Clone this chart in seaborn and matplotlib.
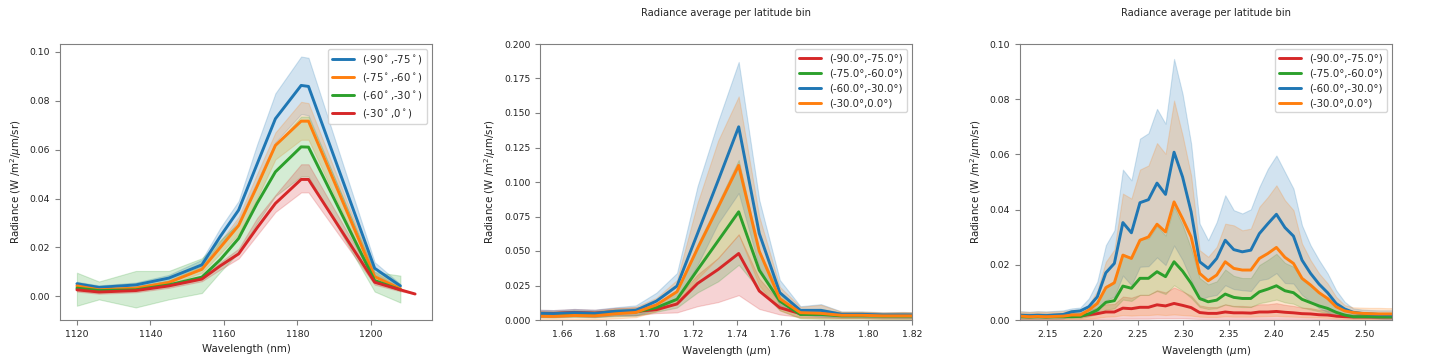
import numpy as np
import pandas as pd
import matplotlib
matplotlib.use("Agg")
import matplotlib.pyplot as plt
import seaborn as sns

# ---------------- Panel 1 data (nm) ----------------
WL1 = [1120, 1126, 1136, 1145, 1154, 1159, 1164, 1169, 1174, 1181, 1183, 1201, 1208]
WL1_RED = [1120, 1126, 1136, 1145, 1154, 1159, 1164, 1169, 1174, 1181, 1183, 1201, 1208, 1212]
LABELS1 = [r"(-90$^\circ$,-75$^\circ$)", r"(-75$^\circ$,-60$^\circ$)",
           r"(-60$^\circ$,-30$^\circ$)", r"(-30$^\circ$,0$^\circ$)"]
P1_BLUE = [0.0052, 0.0037, 0.0047, 0.0075, 0.0129, 0.0245, 0.0353, 0.0540, 0.0726, 0.0862, 0.0858, 0.0115, 0.0043]
P1_BLUE_HI = [0.0060, 0.0045, 0.0057, 0.0088, 0.0150, 0.0280, 0.0390, 0.0620, 0.0830, 0.0980, 0.0975, 0.0140, 0.0050]
P1_BLUE_LO = [0.0044, 0.0030, 0.0038, 0.0063, 0.0110, 0.0210, 0.0310, 0.0470, 0.0630, 0.0745, 0.0740, 0.0090, 0.0036]
P1_ORANGE = [0.0043, 0.0027, 0.0034, 0.0057, 0.0111, 0.0200, 0.0290, 0.0450, 0.0617, 0.0716, 0.0716, 0.0081, 0.0031]
P1_ORANGE_HI = [0.0050, 0.0033, 0.0041, 0.0066, 0.0125, 0.0225, 0.0325, 0.0500, 0.0670, 0.0795, 0.0790, 0.0100, 0.0037]
P1_ORANGE_LO = [0.0036, 0.0021, 0.0027, 0.0048, 0.0097, 0.0175, 0.0255, 0.0400, 0.0560, 0.0640, 0.0640, 0.0062, 0.0025]
P1_GREEN = [0.0034, 0.0024, 0.0027, 0.0047, 0.0079, 0.0150, 0.0237, 0.0380, 0.0509, 0.0611, 0.0610, 0.0065, 0.0027]
P1_GREEN_HI = [0.0097, 0.0061, 0.0104, 0.0104, 0.0156, 0.0230, 0.0300, 0.0450, 0.0620, 0.0735, 0.0735, 0.0100, 0.0085]
P1_GREEN_LO = [-0.0038, -0.0012, -0.0045, -0.0012, 0.0014, 0.0100, 0.0180, 0.0300, 0.0410, 0.0490, 0.0490, 0.0020, -0.0025]
P1_RED = [0.0027, 0.0018, 0.0024, 0.0043, 0.0071, 0.0125, 0.0174, 0.0280, 0.0380, 0.0478, 0.0478, 0.0058, 0.0027, 0.0010]
P1_RED_HI = [0.0035, 0.0025, 0.0031, 0.0051, 0.0080, 0.0140, 0.0195, 0.0320, 0.0415, 0.0540, 0.0540, 0.0068, 0.0033, 0.0010]
P1_RED_LO = [0.0020, 0.0011, 0.0017, 0.0035, 0.0062, 0.0110, 0.0155, 0.0250, 0.0345, 0.0425, 0.0425, 0.0048, 0.0021, 0.0010]

# ---------------- Panel 2 data (um) ----------------
WL2 = [1.6468, 1.6562, 1.6656, 1.6750, 1.6844, 1.6938, 1.7032, 1.7126, 1.7220, 1.7314,
       1.7408, 1.7502, 1.7596, 1.7690, 1.7784, 1.7878, 1.7972, 1.8066, 1.8160, 1.8254]
LABELS23 = ["(-90.0°,-75.0°)", "(-75.0°,-60.0°)", "(-60.0°,-30.0°)", "(-30.0°,0.0°)"]
P2_RED = [0.0050, 0.0048, 0.0055, 0.0050, 0.0060, 0.0062, 0.0075, 0.0116, 0.0265, 0.0366,
          0.0482, 0.0210, 0.0089, 0.0046, 0.0045, 0.0035, 0.0035, 0.0032, 0.0032, 0.0032]
P2_RED_HI = [0.0075, 0.0072, 0.0080, 0.0075, 0.0088, 0.0092, 0.0100, 0.0160, 0.0330, 0.0450,
             0.0620, 0.0300, 0.0130, 0.0070, 0.0070, 0.0055, 0.0055, 0.0052, 0.0052, 0.0052]
P2_RED_LO = [0.0025, 0.0024, 0.0030, 0.0025, 0.0032, 0.0034, 0.0050, 0.0055, 0.0100, 0.0130,
             0.0180, 0.0080, 0.0040, 0.0022, 0.0020, 0.0015, 0.0015, 0.0012, 0.0012, 0.0012]
P2_GREEN = [0.0042, 0.0040, 0.0045, 0.0042, 0.0052, 0.0058, 0.0090, 0.0150, 0.0364, 0.0574,
            0.0784, 0.0361, 0.0137, 0.0040, 0.0040, 0.0030, 0.0030, 0.0028, 0.0028, 0.0028]
P2_GREEN_HI = [0.0065, 0.0063, 0.0070, 0.0065, 0.0078, 0.0085, 0.0120, 0.0210, 0.0550, 0.0850,
               0.1160, 0.0500, 0.0200, 0.0075, 0.0080, 0.0055, 0.0055, 0.0050, 0.0052, 0.0050]
P2_GREEN_LO = [0.0020, 0.0018, 0.0022, 0.0020, 0.0028, 0.0032, 0.0060, 0.0090, 0.0200, 0.0280,
               0.0400, 0.0220, 0.0070, 0.0012, 0.0010, 0.0010, 0.0010, 0.0008, 0.0008, 0.0008]
P2_BLUE = [0.0048, 0.0046, 0.0053, 0.0048, 0.0063, 0.0070, 0.0137, 0.0246, 0.0627, 0.1010,
           0.1400, 0.0627, 0.0198, 0.0070, 0.0070, 0.0041, 0.0041, 0.0036, 0.0036, 0.0035]
P2_BLUE_HI = [0.0075, 0.0072, 0.0080, 0.0075, 0.0092, 0.0106, 0.0198, 0.0340, 0.0970, 0.1440,
              0.1870, 0.0870, 0.0290, 0.0100, 0.0115, 0.0062, 0.0062, 0.0056, 0.0058, 0.0056]
P2_BLUE_LO = [0.0021, 0.0020, 0.0026, 0.0021, 0.0034, 0.0034, 0.0076, 0.0152, 0.0400, 0.0700,
              0.0920, 0.0384, 0.0106, 0.0040, 0.0025, 0.0020, 0.0020, 0.0016, 0.0014, 0.0014]
P2_ORANGE = [0.0028, 0.0026, 0.0033, 0.0030, 0.0045, 0.0055, 0.0110, 0.0205, 0.0518, 0.0817,
             0.1120, 0.0499, 0.0154, 0.0053, 0.0048, 0.0034, 0.0034, 0.0030, 0.0030, 0.0030]
P2_ORANGE_HI = [0.0060, 0.0058, 0.0068, 0.0065, 0.0085, 0.0095, 0.0160, 0.0290, 0.0850, 0.1300,
                0.1620, 0.0750, 0.0240, 0.0095, 0.0110, 0.0060, 0.0060, 0.0055, 0.0058, 0.0055]
P2_ORANGE_LO = [0.0005, 0.0004, 0.0006, 0.0005, 0.0012, 0.0020, 0.0065, 0.0125, 0.0300, 0.0450,
                0.0620, 0.0250, 0.0070, 0.0015, 0.0010, 0.0010, 0.0010, 0.0008, 0.0008, 0.0008]

# ---------------- Panel 3 data (um) ----------------
WL3 = [2.1112, 2.1206, 2.1300, 2.1394, 2.1488, 2.1582, 2.1676, 2.1770, 2.1864, 2.1958,
       2.2052, 2.2146, 2.2240, 2.2334, 2.2428, 2.2522, 2.2616, 2.2710, 2.2804, 2.2898,
       2.2992, 2.3086, 2.3180, 2.3274, 2.3368, 2.3462, 2.3556, 2.3650, 2.3744, 2.3838,
       2.3932, 2.4026, 2.4120, 2.4214, 2.4308, 2.4402, 2.4496, 2.4590, 2.4684, 2.4778,
       2.4872, 2.4966, 2.5060, 2.5154, 2.5248, 2.5342]
P3_RED = [0.0013, 0.0013, 0.0012, 0.0013, 0.0012, 0.0013, 0.0013, 0.0014, 0.0014, 0.0019,
          0.0023, 0.0029, 0.0029, 0.0043, 0.0041, 0.0046, 0.0046, 0.0055, 0.0051, 0.0060,
          0.0053, 0.0045, 0.0027, 0.0024, 0.0024, 0.0029, 0.0026, 0.0026, 0.0025, 0.0029,
          0.0029, 0.0031, 0.0028, 0.0026, 0.0023, 0.0022, 0.0019, 0.0018, 0.0014, 0.0012,
          0.0011, 0.0011, 0.0011, 0.0011, 0.0011, 0.0011]
P3_RED_HI = [0.0024, 0.0024, 0.0023, 0.0024, 0.0023, 0.0024, 0.0024, 0.0026, 0.0027, 0.0036,
             0.0045, 0.0057, 0.0058, 0.0085, 0.0081, 0.0091, 0.0091, 0.0108, 0.0100, 0.0118,
             0.0104, 0.0088, 0.0053, 0.0047, 0.0047, 0.0057, 0.0051, 0.0051, 0.0049, 0.0057,
             0.0057, 0.0061, 0.0055, 0.0051, 0.0045, 0.0043, 0.0037, 0.0035, 0.0027, 0.0023,
             0.0021, 0.0021, 0.0021, 0.0021, 0.0021, 0.0021]
P3_RED_LO = [0.0003, 0.0003, 0.0003, 0.0003, 0.0003, 0.0003, 0.0003, 0.0003, 0.0003, 0.0003,
             0.0003, 0.0004, 0.0004, 0.0005, 0.0005, 0.0005, 0.0005, 0.0006, 0.0006, 0.0006,
             0.0006, 0.0005, 0.0004, 0.0004, 0.0004, 0.0004, 0.0004, 0.0004, 0.0004, 0.0004,
             0.0004, 0.0004, 0.0004, 0.0004, 0.0004, 0.0004, 0.0003, 0.0003, 0.0003, 0.0003,
             0.0003, 0.0003, 0.0003, 0.0003, 0.0003, 0.0003]
P3_GREEN = [0.0012, 0.0012, 0.0011, 0.0012, 0.0011, 0.0012, 0.0012, 0.0012, 0.0013, 0.0022,
            0.0036, 0.0064, 0.0070, 0.0123, 0.0115, 0.0151, 0.0151, 0.0175, 0.0157, 0.0211,
            0.0177, 0.0133, 0.0078, 0.0066, 0.0072, 0.0094, 0.0082, 0.0078, 0.0078, 0.0102,
            0.0112, 0.0124, 0.0106, 0.0099, 0.0075, 0.0063, 0.0051, 0.0042, 0.0028, 0.0018,
            0.0012, 0.0012, 0.0012, 0.0011, 0.0011, 0.0011]
P3_GREEN_HI = [0.0024, 0.0024, 0.0023, 0.0024, 0.0023, 0.0024, 0.0025, 0.0025, 0.0026, 0.0043,
               0.0070, 0.0125, 0.0137, 0.0240, 0.0224, 0.0295, 0.0295, 0.0341, 0.0306, 0.0411,
               0.0345, 0.0259, 0.0152, 0.0129, 0.0140, 0.0183, 0.0160, 0.0152, 0.0152, 0.0199,
               0.0218, 0.0240, 0.0207, 0.0193, 0.0146, 0.0123, 0.0099, 0.0082, 0.0055, 0.0035,
               0.0024, 0.0023, 0.0023, 0.0022, 0.0022, 0.0022]
P3_GREEN_LO = [0.0007, 0.0007, 0.0007, 0.0007, 0.0007, 0.0007, 0.0007, 0.0007, 0.0007, 0.0013,
               0.0022, 0.0038, 0.0042, 0.0074, 0.0069, 0.0091, 0.0091, 0.0105, 0.0094, 0.0126,
               0.0106, 0.0080, 0.0047, 0.0040, 0.0043, 0.0056, 0.0049, 0.0047, 0.0047, 0.0061,
               0.0067, 0.0074, 0.0064, 0.0059, 0.0045, 0.0038, 0.0031, 0.0025, 0.0017, 0.0011,
               0.0007, 0.0007, 0.0007, 0.0007, 0.0007, 0.0007]
P3_BLUE = [0.0017, 0.0017, 0.0016, 0.0017, 0.0016, 0.0018, 0.0020, 0.0030, 0.0033, 0.0048,
           0.0084, 0.0171, 0.0205, 0.0353, 0.0316, 0.0425, 0.0436, 0.0496, 0.0455, 0.0608,
           0.0518, 0.0392, 0.0211, 0.0187, 0.0223, 0.0289, 0.0255, 0.0247, 0.0253, 0.0313,
           0.0349, 0.0383, 0.0335, 0.0304, 0.0217, 0.0169, 0.0130, 0.0099, 0.0060, 0.0040,
           0.0028, 0.0024, 0.0022, 0.0020, 0.0019, 0.0019]
P3_BLUE_HI = [0.0030, 0.0032, 0.0030, 0.0032, 0.0031, 0.0033, 0.0035, 0.0042, 0.0045, 0.0078,
              0.0139, 0.0271, 0.0325, 0.0545, 0.0506, 0.0657, 0.0677, 0.0765, 0.0711, 0.0946,
              0.0819, 0.0639, 0.0349, 0.0289, 0.0355, 0.0452, 0.0398, 0.0386, 0.0401, 0.0482,
              0.0548, 0.0596, 0.0536, 0.0476, 0.0343, 0.0271, 0.0217, 0.0169, 0.0108, 0.0066,
              0.0042, 0.0038, 0.0036, 0.0035, 0.0035, 0.0035]
P3_BLUE_LO = [0.0004, 0.0002, 0.0002, 0.0002, 0.0001, 0.0003, 0.0005, 0.0018, 0.0021, 0.0018,
              0.0029, 0.0071, 0.0085, 0.0161, 0.0126, 0.0193, 0.0195, 0.0227, 0.0199, 0.0270,
              0.0217, 0.0145, 0.0073, 0.0085, 0.0091, 0.0126, 0.0112, 0.0108, 0.0105, 0.0144,
              0.0150, 0.0170, 0.0134, 0.0132, 0.0091, 0.0067, 0.0043, 0.0029, 0.0012, 0.0014,
              0.0014, 0.0010, 0.0008, 0.0005, 0.0003, 0.0003]
P3_ORANGE = [0.0013, 0.0014, 0.0012, 0.0013, 0.0012, 0.0013, 0.0014, 0.0018, 0.0018, 0.0036,
             0.0060, 0.0117, 0.0135, 0.0235, 0.0223, 0.0289, 0.0301, 0.0347, 0.0319, 0.0428,
             0.0367, 0.0301, 0.0169, 0.0142, 0.0163, 0.0211, 0.0187, 0.0181, 0.0181, 0.0223,
             0.0241, 0.0263, 0.0227, 0.0205, 0.0151, 0.0127, 0.0099, 0.0078, 0.0048, 0.0033,
             0.0027, 0.0024, 0.0023, 0.0022, 0.0022, 0.0022]
P3_ORANGE_HI = [0.0030, 0.0031, 0.0029, 0.0031, 0.0030, 0.0031, 0.0032, 0.0036, 0.0038, 0.0054,
                0.0106, 0.0211, 0.0255, 0.0458, 0.0440, 0.0545, 0.0560, 0.0641, 0.0602, 0.0795,
                0.0669, 0.0524, 0.0253, 0.0229, 0.0265, 0.0349, 0.0343, 0.0325, 0.0331, 0.0410,
                0.0446, 0.0488, 0.0434, 0.0398, 0.0277, 0.0217, 0.0169, 0.0133, 0.0084, 0.0054,
                0.0046, 0.0045, 0.0044, 0.0044, 0.0043, 0.0043]
P3_ORANGE_LO = [0.0003, 0.0003, 0.0003, 0.0003, 0.0003, 0.0003, 0.0003, 0.0004, 0.0004, 0.0005,
                0.0008, 0.0012, 0.0013, 0.0018, 0.0016, 0.0018, 0.0018, 0.0020, 0.0018, 0.0020,
                0.0018, 0.0016, 0.0012, 0.0011, 0.0011, 0.0013, 0.0012, 0.0012, 0.0012, 0.0013,
                0.0014, 0.0015, 0.0013, 0.0012, 0.0011, 0.0010, 0.0009, 0.0008, 0.0006, 0.0005,
                0.0004, 0.0004, 0.0004, 0.0004, 0.0004, 0.0004]

TITLE = "Radiance average per latitude bin"
YLABEL = r"Radiance (W /m$^2$/$\mu$m/sr)"

BLUE, ORANGE, GREEN, RED = "#1f77b4", "#ff7f0e", "#2ca02c", "#d62728"

sns.set_theme(style="ticks")
plt.rcParams.update({
    "font.family": ["DejaVu Sans"],
    "axes.edgecolor": "#808080",
    "axes.linewidth": 0.8,
    "xtick.color": "#808080",
    "ytick.color": "#808080",
    "xtick.labelcolor": "#222222",
    "ytick.labelcolor": "#222222",
    "xtick.labelsize": 6.7,
    "ytick.labelsize": 6.7,
    "xtick.major.size": 3.5,
    "ytick.major.size": 3.5,
    "xtick.major.width": 0.8,
    "ytick.major.width": 0.8,
    "axes.labelsize": 7.4,
    "axes.labelcolor": "#222222",
    "legend.fontsize": 7.3,
    "axes.titlesize": 7.2,
})

fig = plt.figure(figsize=(14.4, 3.6), dpi=100)
W, H = 1440, 360
rects = [(60 / W, 40 / H, 372 / W, 276 / H),
         (540 / W, 40 / H, 372 / W, 276 / H),
         (1020 / W, 40 / H, 372 / W, 276 / H)]
axes = [fig.add_axes(r) for r in rects]


def draw_panel(ax, series, labels, colors):
    frames = []
    for (x, mean, lo, hi), lab in zip(series, labels):
        frames.append(pd.DataFrame({"wl": x, "rad": mean, "bin": lab}))
    df = pd.concat(frames, ignore_index=True)
    sns.lineplot(data=df, x="wl", y="rad", hue="bin", hue_order=labels,
                 palette=dict(zip(labels, colors)), linewidth=2.1,
                 errorbar=None, ax=ax)
    for (x, mean, lo, hi), c in zip(series, colors):
        n = len(lo)
        ax.fill_between(x[:n], lo, hi, color=c, alpha=0.2, linewidth=0.8, zorder=1)
    handles, labs = ax.get_legend_handles_labels()
    ax.legend(handles, labs, loc="upper right", frameon=True, handlelength=2.2)


# Panel 1
draw_panel(axes[0],
           [(WL1, P1_BLUE, P1_BLUE_LO, P1_BLUE_HI),
            (WL1, P1_ORANGE, P1_ORANGE_LO, P1_ORANGE_HI),
            (WL1, P1_GREEN, P1_GREEN_LO, P1_GREEN_HI),
            (WL1_RED, P1_RED, P1_RED_LO, P1_RED_HI)],
           LABELS1, [BLUE, ORANGE, GREEN, RED])
axes[0].set_xlabel("Wavelength (nm)")
axes[0].set_ylabel(YLABEL)
axes[0].set_xticks([1120, 1140, 1160, 1180, 1200])

# Panel 2
draw_panel(axes[1],
           [(WL2, P2_RED, P2_RED_LO, P2_RED_HI),
            (WL2, P2_GREEN, P2_GREEN_LO, P2_GREEN_HI),
            (WL2, P2_BLUE, P2_BLUE_LO, P2_BLUE_HI),
            (WL2, P2_ORANGE, P2_ORANGE_LO, P2_ORANGE_HI)],
           LABELS23, [RED, GREEN, BLUE, ORANGE])
axes[1].set_xlim(1.65, 1.82)
axes[1].set_ylim(0, 0.2)
axes[1].set_xlabel(r"Wavelength ($\mu$m)")
axes[1].set_ylabel(YLABEL)
axes[1].set_title(TITLE, pad=20)

# Panel 3
draw_panel(axes[2],
           [(WL3, P3_RED, P3_RED_LO, P3_RED_HI),
            (WL3, P3_GREEN, P3_GREEN_LO, P3_GREEN_HI),
            (WL3, P3_BLUE, P3_BLUE_LO, P3_BLUE_HI),
            (WL3, P3_ORANGE, P3_ORANGE_LO, P3_ORANGE_HI)],
           LABELS23, [RED, GREEN, BLUE, ORANGE])
axes[2].set_xlim(2.12, 2.53)
axes[2].set_ylim(0, 0.1)
axes[2].set_xlabel(r"Wavelength ($\mu$m)")
axes[2].set_ylabel(YLABEL)
axes[2].set_title(TITLE, pad=20)

fig.savefig("out.png", dpi=100)
